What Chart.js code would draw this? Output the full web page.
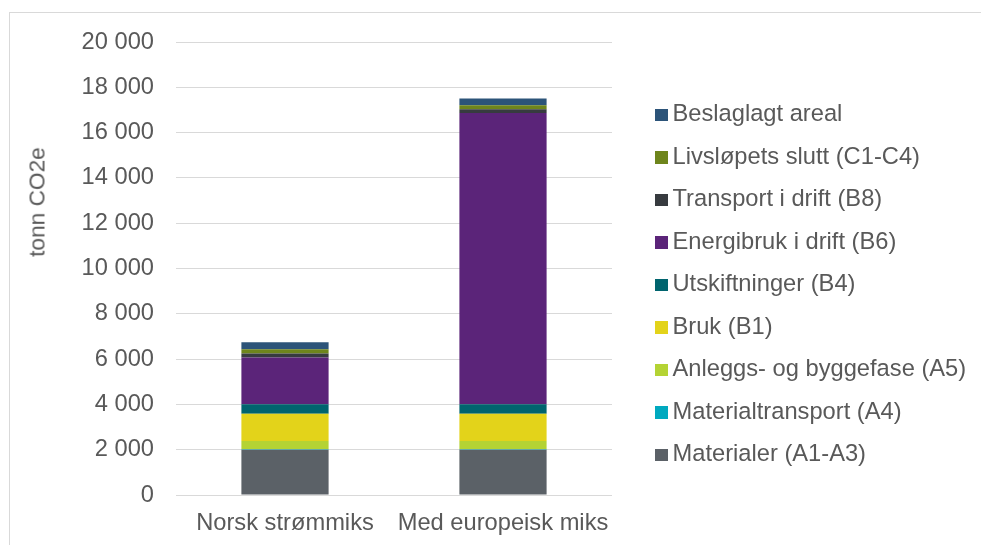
<!DOCTYPE html>
<html>
<head>
<meta charset="utf-8">
<script src="https://cdn.jsdelivr.net/npm/chart.js@4.4.0/dist/chart.umd.min.js"></script>
<style>
  body { margin: 0; background: #fff; }
  #wrap { position: relative; width: 981px; height: 545px; overflow: hidden; font-family: "Liberation Sans", Arial, sans-serif; color: #595959; }
  #frame { position: absolute; left: 9px; top: 12px; width: 1200px; height: 800px; border-left: 1px solid #d9d9d9; border-top: 1px solid #d9d9d9; }
  #chart { position: absolute; left: 0; top: 0; }
  #ytitle { position: absolute; left: 37px; top: 202px; transform: translate(-50%, -50%) rotate(-90deg); font-size: 22.7px; white-space: nowrap; }
  #legend { position: absolute; left: 655px; top: 0; }
  .item { position: absolute; left: 0; white-space: nowrap; font-size: 23.7px; line-height: 28px; transform: translateY(-50%); }
  .item span.box { display: inline-block; width: 12.5px; height: 12.5px; margin-right: 5px; vertical-align: 0px; }
</style>
</head>
<body>
<div id="wrap">
  <div id="frame"></div>
  <canvas id="chart" width="981" height="545"></canvas>
  <div id="ytitle">tonn CO2e</div>
  <div id="legend"></div>
</div>
<script>
const categories = ['Norsk strømmiks', 'Med europeisk miks'];

const seriesNames = [
  'Materialer (A1-A3)',
  'Materialtransport (A4)',
  'Anleggs- og byggefase (A5)',
  'Bruk (B1)',
  'Utskiftninger (B4)',
  'Energibruk i drift (B6)',
  'Transport i drift (B8)',
  'Livsløpets slutt (C1-C4)',
  'Beslaglagt areal'
];

const materialer = [2000, 2000];
const materialtransport = [20, 20];
const anleggsfase = [360, 360];
const bruk = [1210, 1210];
const utskiftninger = [420, 420];
const energibruk = [2060, 12850];
const transportDrift = [180, 175];
const livslopSlutt = [180, 170];
const beslaglagtAreal = [310, 300];

const yTickLabels = ['0', '2 000', '4 000', '6 000', '8 000', '10 000', '12 000', '14 000', '16 000', '18 000', '20 000'];

const seriesValues = [materialer, materialtransport, anleggsfase, bruk, utskiftninger, energibruk, transportDrift, livslopSlutt, beslaglagtAreal];
const seriesColors = ['#5b6167', '#00a9bf', '#b4d334', '#e3d31a', '#00646e', '#5b2479', '#373b3f', '#6e851c', '#2c5479'];

const datasets = seriesNames.map((name, i) => ({
  label: name,
  data: seriesValues[i],
  backgroundColor: seriesColors[i],
  borderWidth: 0,
  barPercentage: 0.4,
  categoryPercentage: 1.0
}));

const font = { family: '"Liberation Sans", Arial, sans-serif', size: 23.7 };

new Chart(document.getElementById('chart'), {
  type: 'bar',
  data: { labels: categories, datasets: datasets },
  options: {
    responsive: false,
    animation: false,
    layout: { padding: { left: 60, right: 369, top: 42, bottom: 0 } },
    plugins: {
      legend: { display: false },
      tooltip: { enabled: false }
    },
    scales: {
      x: {
        stacked: true,
        grid: { display: false, drawTicks: false },
        border: { display: false },
        ticks: { color: '#595959', font: font, padding: 14 },
        afterFit: s => { s.height = 50; }
      },
      y: {
        stacked: true,
        min: 0,
        max: 20000,
        ticks: {
          stepSize: 2000,
          color: '#595959',
          font: font,
          padding: 22,
          callback: (v, i) => yTickLabels[i]
        },
        grid: { color: '#d9d9d9', lineWidth: 1, drawTicks: false },
        border: { display: false },
        afterFit: s => { s.width = 116; }
      }
    }
  }
});

// legend, top item is the last series
const legend = document.getElementById('legend');
for (let i = seriesNames.length - 1, row = 0; i >= 0; i--, row++) {
  const el = document.createElement('div');
  el.className = 'item';
  el.style.top = (113 + row * 42.5) + 'px';
  el.innerHTML = '<span class="box" style="background:' + seriesColors[i] + '"></span>' + seriesNames[i];
  legend.appendChild(el);
}
</script>
</body>
</html>
